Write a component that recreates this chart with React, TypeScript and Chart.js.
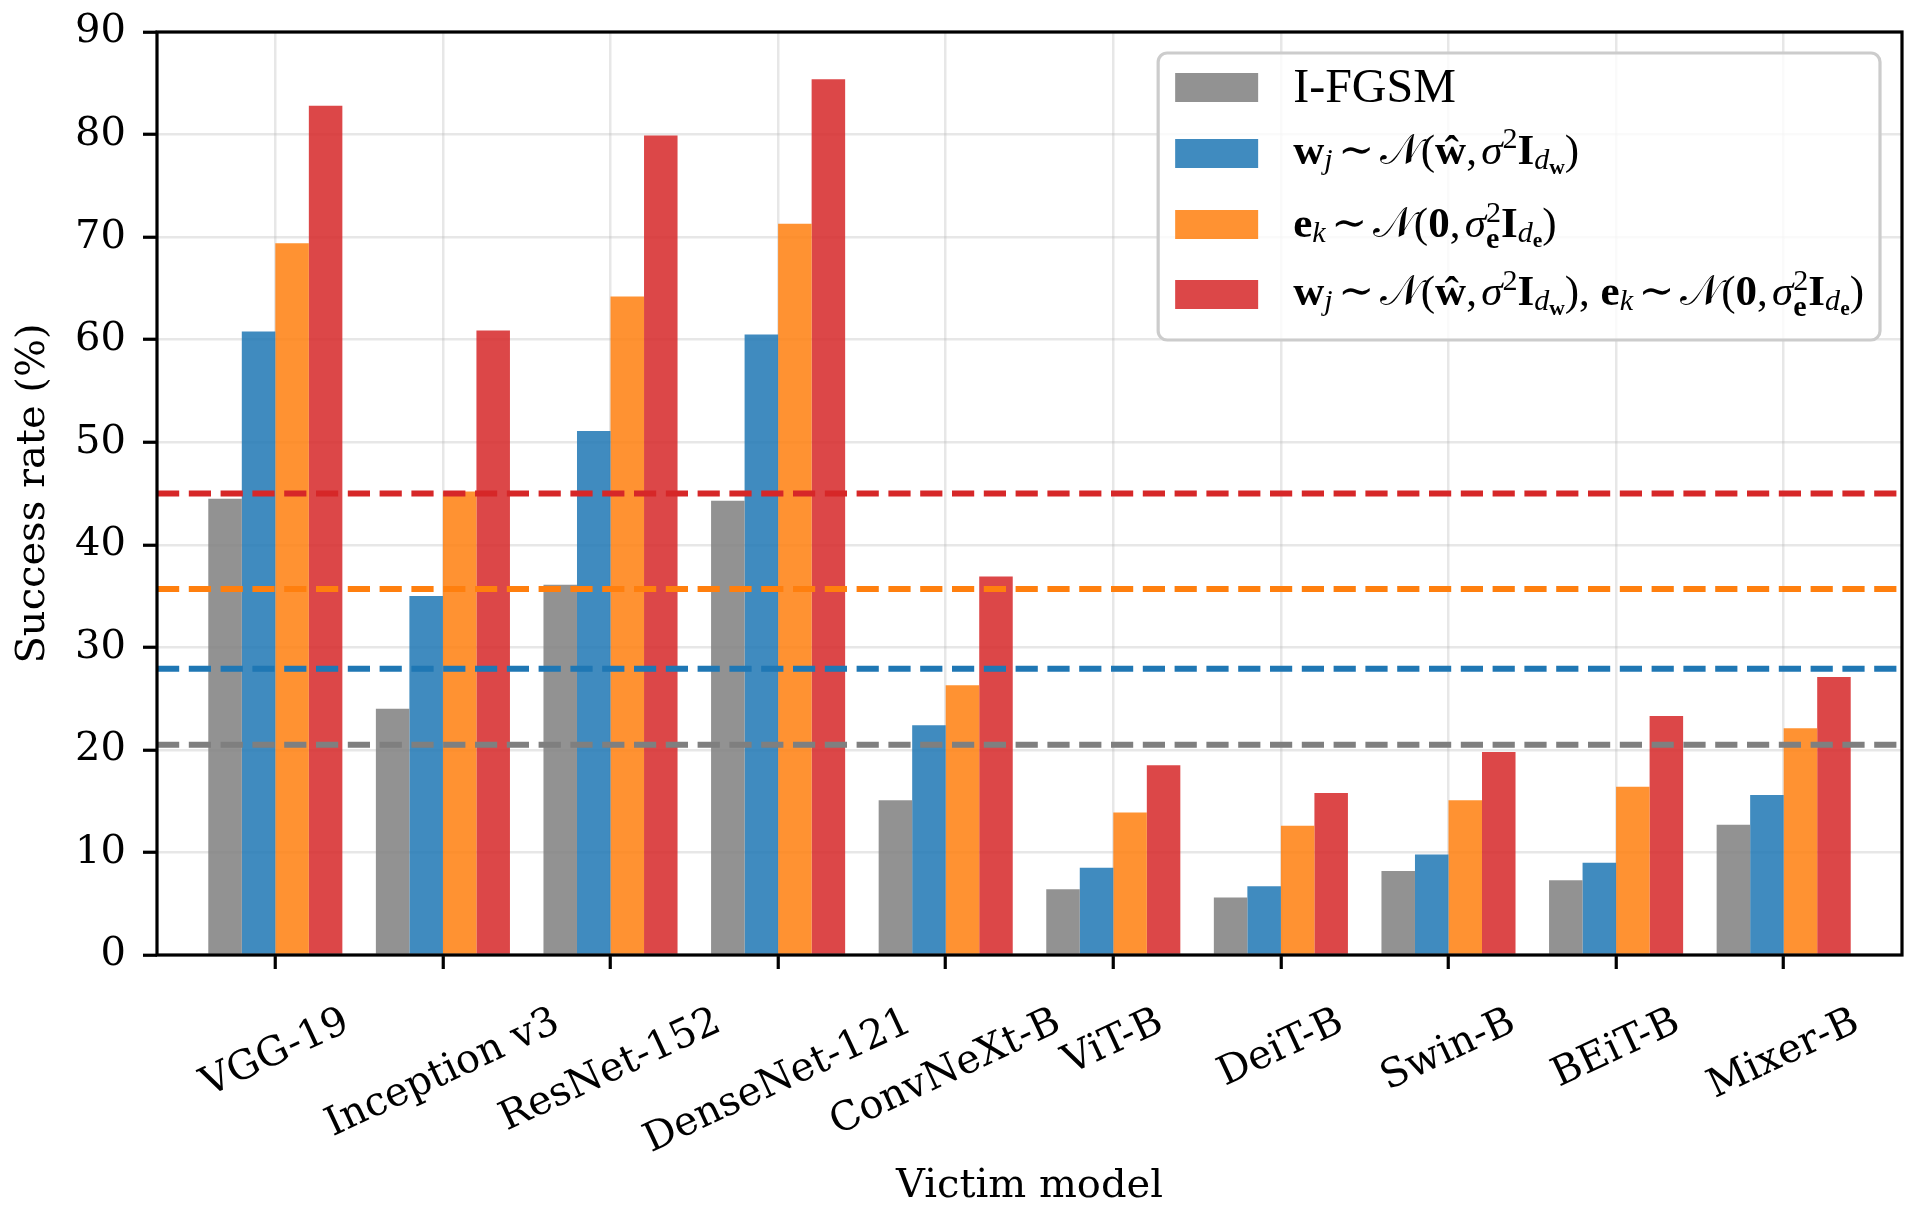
import React, { useEffect, useRef } from 'react';
import { Chart, registerables } from 'chart.js';

Chart.register(...registerables);

// ---------------- data ----------------
const categories = ['VGG-19', 'Inception v3', 'ResNet-152', 'DenseNet-121', 'ConvNeXt-B', 'ViT-B', 'DeiT-B', 'Swin-B', 'BEiT-B', 'Mixer-B'];
const ifgsm = [44.5, 24.0, 36.1, 44.3, 15.1, 6.4, 5.6, 8.2, 7.3, 12.7];
const weightNoise = [60.8, 35.0, 51.1, 60.5, 22.4, 8.5, 6.7, 9.8, 9.0, 15.6];
const featureNoise = [69.4, 45.2, 64.2, 71.3, 26.3, 13.9, 12.6, 15.1, 16.4, 22.1];
const bothNoise = [82.8, 60.9, 79.9, 85.4, 36.9, 18.5, 15.8, 19.8, 23.3, 27.1];
const averageLines = [20.5, 27.9, 35.7, 45.0];
const yTicks = [0, 10, 20, 30, 40, 50, 60, 70, 80, 90];
const seriesNames = ['I-FGSM', 'w_j ~ N(ŵ, σ²I_dw)', 'e_k ~ N(0, σe²I_de)', 'w_j ~ N(ŵ, σ²I_dw), e_k ~ N(0, σe²I_de)'];

// ---------------- styles ----------------
const solid = ['#7f7f7f', '#1f77b4', '#ff7f0e', '#d62728'];
const fills = ['rgba(127,127,127,0.85)', 'rgba(31,119,180,0.85)', 'rgba(255,127,14,0.85)', 'rgba(214,39,40,0.85)'];
const X_MIN = -0.706;
const X_MAX = 9.706;
const SERIF = "'DejaVu Serif'";
const MATH = "'Liberation Serif', 'DejaVu Serif', 'DejaVu Sans', serif";

type Seg = { t?: string; st?: string; k?: number; dy?: number; stack?: boolean; gap?: number };

const rowW: Seg[] = [
  { t: 'w', st: 'bold ' },
  { t: 'j', st: 'italic ', k: 0.7, dy: 0.12 },
  { gap: 0.13 },
  { t: '∼' },
  { gap: 0.13 },
  { t: '𝒩' },
  { t: '(' },
  { t: 'ŵ', st: 'bold ' },
  { t: ',' },
  { gap: 0.1 },
  { t: 'σ', st: 'italic ' },
  { t: '2', k: 0.7, dy: -0.36 },
  { t: 'I', st: 'bold ' },
  { t: 'd', st: 'italic ', k: 0.7, dy: 0.12 },
  { t: 'w', st: 'bold ', k: 0.5, dy: 0.24 },
  { t: ')' },
];
const rowE: Seg[] = [
  { t: 'e', st: 'bold ' },
  { t: 'k', st: 'italic ', k: 0.7, dy: 0.12 },
  { gap: 0.13 },
  { t: '∼' },
  { gap: 0.13 },
  { t: '𝒩' },
  { t: '(' },
  { t: '0', st: 'bold ' },
  { t: ',' },
  { gap: 0.1 },
  { t: 'σ', st: 'italic ' },
  { t: '2', k: 0.7, dy: -0.36, stack: true },
  { t: 'e', st: 'bold ', k: 0.7, dy: 0.26 },
  { t: 'I', st: 'bold ' },
  { t: 'd', st: 'italic ', k: 0.7, dy: 0.12 },
  { t: 'e', st: 'bold ', k: 0.5, dy: 0.24 },
  { t: ')' },
];
const legendRows: Seg[][] = [
  [{ t: seriesNames[0] }],
  rowW,
  rowE,
  [...rowW, { t: ',' }, { gap: 0.25 }, ...rowE],
];
const legendSizes = [48, 43, 43, 43];

function richText(ctx: CanvasRenderingContext2D, segs: Seg[], F: number, x0: number, base: number, draw: boolean): number {
  let x = x0;
  let stackW = 0;
  for (const s of segs) {
    if (s.gap !== undefined) { x += s.gap * F; continue; }
    const size = F * (s.k ?? 1);
    ctx.font = `${s.st ?? ''}${size}px ${MATH}`;
    const w = ctx.measureText(s.t!).width;
    if (draw) ctx.fillText(s.t!, x, base + (s.dy ?? 0) * F);
    if (s.stack) { stackW = w; continue; }
    x += Math.max(w, stackW);
    stackW = 0;
  }
  return x - x0;
}

const overlay = {
  id: 'overlay',
  afterDatasetsDraw(chart: any) {
    const { ctx, chartArea: a } = chart;
    const ys = chart.scales.y;
    // mean lines
    ctx.save();
    ctx.beginPath();
    ctx.rect(a.left, a.top, a.right - a.left, a.bottom - a.top);
    ctx.clip();
    ctx.lineWidth = 6;
    ctx.setLineDash([22.2, 9.6]);
    averageLines.forEach((v, i) => {
      const py = ys.getPixelForValue(v);
      ctx.strokeStyle = solid[i];
      ctx.beginPath();
      ctx.moveTo(a.left, py);
      ctx.lineTo(a.right, py);
      ctx.stroke();
    });
    ctx.restore();
    // frame
    ctx.save();
    ctx.strokeStyle = '#000';
    ctx.lineWidth = 3.2;
    ctx.strokeRect(a.left, a.top, a.right - a.left, a.bottom - a.top);
    ctx.restore();
    // legend
    ctx.save();
    const widths = legendRows.map((r, i) => richText(ctx, r, legendSizes[i], 0, 0, false));
    const maxW = Math.max(...widths);
    const right = a.right - 22;
    const top = a.top + 21;
    const boxW = 135 + maxW + 16;
    const left = right - boxW;
    const boxH = 287;
    ctx.beginPath();
    (ctx as any).roundRect(left, top, boxW, boxH, 9);
    ctx.fillStyle = 'rgba(255,255,255,0.8)';
    ctx.fill();
    ctx.strokeStyle = '#cccccc';
    ctx.lineWidth = 3.2;
    ctx.stroke();
    const centers = [34.5, 100.5, 171.5, 241.5];
    const baseOff = [14.5, 10, 12.5, 10.5];
    ctx.textAlign = 'left';
    ctx.textBaseline = 'alphabetic';
    legendRows.forEach((r, i) => {
      const cy = top + centers[i];
      ctx.fillStyle = fills[i];
      ctx.fillRect(left + 17, cy - 14.5, 83, 29);
      ctx.fillStyle = '#000';
      richText(ctx, r, legendSizes[i], left + 135, cy + baseOff[i], true);
    });
    ctx.restore();
  },
  afterDraw(chart: any) {
    const { ctx, chartArea: a } = chart;
    const xs = chart.scales.x;
    ctx.save();
    ctx.font = `40px ${SERIF}`;
    ctx.fillStyle = '#000';
    ctx.textAlign = 'center';
    ctx.textBaseline = 'middle';
    const th = (25 * Math.PI) / 180;
    categories.forEach((c, i) => {
      const px = xs.getPixelForValue(i);
      const w = ctx.measureText(c).width;
      const H = w * Math.sin(th) + 47 * Math.cos(th);
      const cy = a.bottom + 44 + H / 2;
      ctx.save();
      ctx.translate(px, cy);
      ctx.rotate(-th);
      ctx.fillText(c, 0, 0);
      ctx.restore();
    });
    ctx.restore();
  },
};

export default function App() {
  const ref = useRef<HTMLCanvasElement>(null);
  useEffect(() => {
    document.body.style.margin = '0';
    document.body.style.overflow = 'hidden';
    const series = [ifgsm, weightNoise, featureNoise, bothNoise];
    const chart = new Chart(ref.current!, {
      type: 'bar',
      data: {
        datasets: series.map((vals, i) => ({
          label: seriesNames[i],
          data: vals.map((v, j) => ({ x: j, y: v })),
          backgroundColor: fills[i],
          borderWidth: 0,
          categoryPercentage: 0.8,
          barPercentage: 1.0,
        })),
      },
      options: {
        responsive: false,
        animation: false,
        devicePixelRatio: 1,
        layout: { padding: { top: 32, right: 14, bottom: 0, left: 0 } },
        plugins: { legend: { display: false }, tooltip: { enabled: false } },
        scales: {
          x: {
            type: 'linear',
            min: X_MIN,
            max: X_MAX,
            offset: false,
            bounds: 'ticks',
            afterBuildTicks: (s: any) => {
              s.ticks = categories.map((_, i) => ({ value: i }));
              s.min = X_MIN;
              s.max = X_MAX;
            },
            afterFit: (s: any) => { s.height = 269; s.paddingLeft = 0; s.paddingRight = 0; },
            ticks: { display: false, stepSize: 1, includeBounds: false, autoSkip: false },
            grid: { offset: false, color: 'rgba(176,176,176,0.3)', lineWidth: 2.5, drawTicks: true, tickLength: 14, tickWidth: 3.2, tickColor: '#000' },
            border: { display: false },
            title: { display: true, text: 'Victim model', color: '#000', font: { family: SERIF, size: 40, lineHeight: 1.2 }, padding: { top: 0, bottom: 13 } },
          },
          y: {
            type: 'linear',
            min: 0,
            max: 90,
            afterBuildTicks: (s: any) => { s.ticks = yTicks.map((v) => ({ value: v })); },
            afterFit: (s: any) => { s.width = 157; s.paddingTop = 0; s.paddingBottom = 0; },
            ticks: { stepSize: 10, color: '#000', padding: 17, font: { family: SERIF, size: 40 } },
            grid: { color: 'rgba(176,176,176,0.3)', lineWidth: 2.5, drawTicks: true, tickLength: 14, tickWidth: 3.2, tickColor: '#000' },
            border: { display: false },
            title: { display: true, text: 'Success rate (%)', color: '#000', font: { family: SERIF, size: 40, lineHeight: 1.2 }, padding: { top: 10, bottom: 0 } },
          },
        },
      },
      plugins: [overlay],
    } as any);
    return () => chart.destroy();
  }, []);
  return (
    <div style={{ width: 1916, height: 1224 }}>
      <canvas ref={ref} width={1916} height={1224} style={{ display: 'block', width: 1916, height: 1224 }} />
    </div>
  );
}
